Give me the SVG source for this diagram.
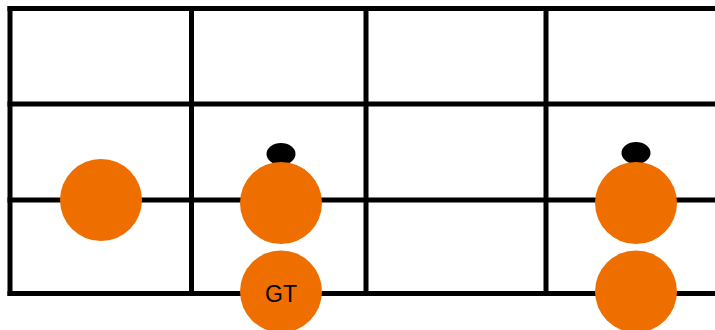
<svg xmlns="http://www.w3.org/2000/svg" width="715" height="330" viewBox="0 0 715 330">
<style>
.ln{stroke:#000;stroke-width:5;fill:none}
.dot{fill:#EE6F00}
.mk{fill:#000}
.lbl{font-family:"Liberation Sans",Arial,sans-serif;font-size:23px;fill:#000;text-anchor:middle}
</style>
<rect width="715" height="330" fill="#fff"/>
<g id="grid">
<line class="ln" x1="7.5" y1="8.5" x2="715" y2="8.5"/>
<line class="ln" x1="7.5" y1="104" x2="715" y2="104"/>
<line class="ln" x1="7.5" y1="200" x2="715" y2="200"/>
<line class="ln" x1="7.5" y1="293.5" x2="715" y2="293.5"/>
<line class="ln" x1="10" y1="6" x2="10" y2="296"/>
<line class="ln" x1="191.5" y1="6" x2="191.5" y2="296"/>
<line class="ln" x1="366" y1="6" x2="366" y2="296"/>
<line class="ln" x1="546" y1="6" x2="546" y2="296"/>
</g>
<g id="marker1"><ellipse class="mk" cx="281" cy="154" rx="14.5" ry="11"/></g>
<g id="marker2"><ellipse class="mk" cx="636" cy="153" rx="14.5" ry="11"/></g>
<g id="n1"><circle class="dot" cx="101" cy="200" r="41"/></g>
<g id="n2"><circle class="dot" cx="281" cy="203" r="41"/></g>
<g id="n3"><circle class="dot" cx="281" cy="291.5" r="41"/><text class="lbl" x="281" y="302">GT</text></g>
<g id="n4"><circle class="dot" cx="636" cy="203" r="41"/></g>
<g id="n5"><circle class="dot" cx="636" cy="291.5" r="41"/></g>
</svg>
